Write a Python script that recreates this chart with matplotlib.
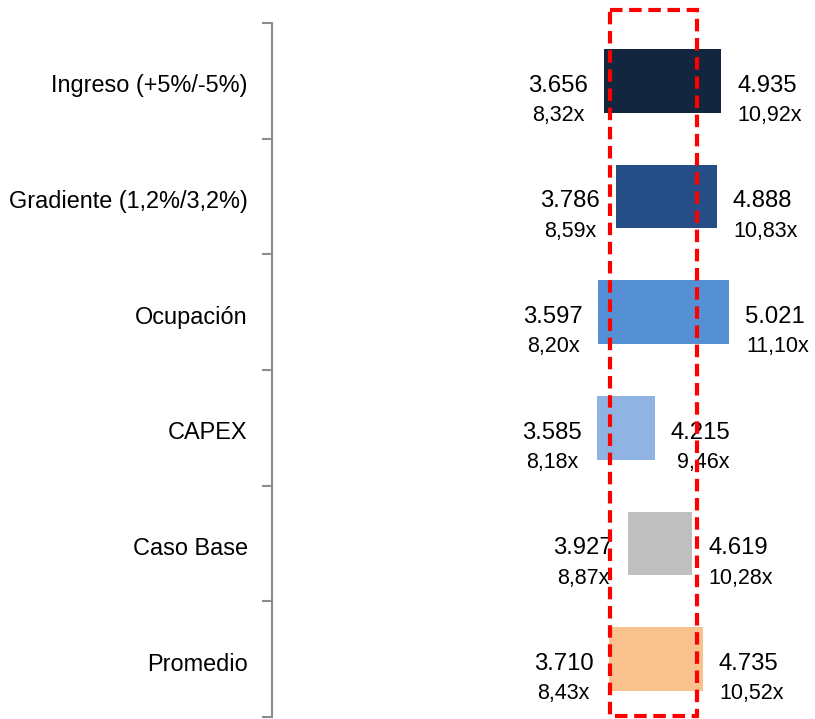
import numpy as np
import matplotlib.pyplot as plt
from matplotlib.patches import Rectangle

plt.rcParams['font.family'] = ['Liberation Sans', 'DejaVu Sans']

# Sensitivity ranges (low / high) and the matching multiples
categories = ['Ingreso (+5%/-5%)', 'Gradiente (1,2%/3,2%)', 'Ocupación',
              'CAPEX', 'Caso Base', 'Promedio']
low_values = [3656, 3786, 3597, 3585, 3927, 3710]
high_values = [4935, 4888, 5021, 4215, 4619, 4735]
low_multiples = [8.32, 8.59, 8.20, 8.18, 8.87, 8.43]
high_multiples = [10.92, 10.83, 11.10, 9.46, 10.28, 10.52]
bar_colors = ['#13263f', '#254e86', '#5590d5', '#8fb3e3', '#bfbfbf', '#f8c18e']

# highlighted band
band_low, band_high = 3725, 4673


def fmt_value(v):
    return f"{v:,}".replace(",", ".")


def fmt_mult(m):
    return f"{m:.2f}".replace(".", ",") + "x"


W, H = 815, 719
fig = plt.figure(figsize=(W / 100, H / 100), dpi=100)
ax = fig.add_axes([272 / W, 1 - 717 / H, 543 / W, 694 / H])

y = np.arange(len(categories))
widths = np.array(high_values) - np.array(low_values)
ax.barh(y, widths, left=low_values, height=0.55, color=bar_colors, zorder=2)

ax.set_xlim(44, 44 + 543 / 0.0918)
ax.set_ylim(len(categories) - 0.5, -0.5)

# axis: only the left spine with separators between categories
for side in ['top', 'right', 'bottom']:
    ax.spines[side].set_visible(False)
ax.spines['left'].set_color('#8c8c8c')
ax.spines['left'].set_linewidth(1.5)
ax.set_xticks([])
ax.set_yticks(np.arange(-0.5, len(categories), 1.0))
ax.set_yticklabels([])
ax.tick_params(axis='y', length=7, width=1.5, color='#8c8c8c')

dy = -3.5  # nudge texts down a little
for i, name in enumerate(categories):
    ax.annotate(name, xy=(0, i), xycoords=('axes fraction', 'data'),
                xytext=(-17.5, dy), textcoords='offset points',
                ha='right', va='center', fontsize=16.9)

    ax.annotate(fmt_value(low_values[i]), xy=(low_values[i], i),
                xytext=(-32.5, dy), textcoords='offset points',
                ha='center', va='center', fontsize=17.2)
    ax.annotate(fmt_mult(low_multiples[i]), xy=(low_values[i], i),
                xytext=(-32.5, dy - 21.5), textcoords='offset points',
                ha='center', va='center', fontsize=15.5)
    ax.annotate(fmt_value(high_values[i]), xy=(high_values[i], i),
                xytext=(33, dy), textcoords='offset points',
                ha='center', va='center', fontsize=17.2)
    ax.annotate(fmt_mult(high_multiples[i]), xy=(high_values[i], i),
                xytext=(35, dy - 21.5), textcoords='offset points',
                ha='center', va='center', fontsize=15.5)

# dashed red box around the central range
band = Rectangle((band_low, -0.612), band_high - band_low, 6.1,
                 fill=False, edgecolor='#ff0000', linewidth=3,
                 linestyle=(0, (3, 1.6)), clip_on=False, zorder=3)
ax.add_patch(band)

fig.savefig('out.png', dpi=100)
